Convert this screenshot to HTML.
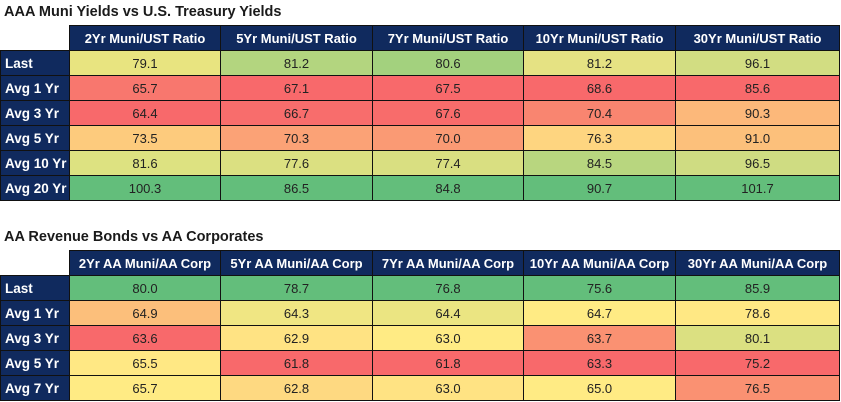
<!DOCTYPE html>
<html><head><meta charset="utf-8"><style>
body{margin:0;width:841px;height:402px;background:#fff;position:relative;overflow:hidden;font-family:"Liberation Sans",sans-serif}
.t{position:absolute;left:4px;font-size:14.5px;font-weight:bold;color:#1a1a1a}
.c{position:absolute;box-sizing:border-box;border:1.5px solid #111;display:flex;align-items:center;justify-content:center;font-size:13px;color:#222}
.h{background:#102a5e;color:#fff;font-weight:bold;font-size:13px}
.l{background:#102a5e;color:#fff;font-weight:bold;justify-content:flex-start;padding-left:4px;font-size:13.5px}
</style></head><body>
<div class="t" style="top:4px">AAA Muni Yields vs U.S. Treasury Yields</div>
<div class="t" style="top:229px">AA Revenue Bonds vs AA Corporates</div>
<div id="root"></div>
<script>
var xs=[0,69,220,372,523,675,839];
function tbl(y0,hh,rh,heads,labels,vals,cols){
 var s='';
 for(var j=0;j<5;j++){s+='<div class="c h" style="left:'+xs[j+1]+'px;top:'+y0+'px;width:'+(xs[j+2]-xs[j+1]+1)+'px;height:'+(hh+1)+'px">'+heads[j]+'</div>';}
 for(var i=0;i<labels.length;i++){var y=y0+hh+i*rh;
  s+='<div class="c l" style="left:0;top:'+y+'px;width:70px;height:'+(rh+1)+'px">'+labels[i]+'</div>';
  for(var j=0;j<5;j++){s+='<div class="c" style="left:'+xs[j+1]+'px;top:'+y+'px;width:'+(xs[j+2]-xs[j+1]+1)+'px;height:'+(rh+1)+'px;background:'+cols[i][j]+'">'+vals[i][j]+'</div>';}
 }
 return s;
}
var h1=['2Yr Muni/UST Ratio','5Yr Muni/UST Ratio','7Yr Muni/UST Ratio','10Yr Muni/UST Ratio','30Yr Muni/UST Ratio'];
var l1=['Last','Avg 1 Yr','Avg 3 Yr','Avg 5 Yr','Avg 10 Yr','Avg 20 Yr'];
var v1=[['79.1','81.2','80.6','81.2','96.1'],['65.7','67.1','67.5','68.6','85.6'],['64.4','66.7','67.6','70.4','90.3'],['73.5','70.3','70.0','76.3','91.0'],['81.6','77.6','77.4','84.5','96.5'],['100.3','86.5','84.8','90.7','101.7']];
var c1=[['#e8e480','#b3d57f','#a3d17e','#e5e283','#d2dd82'],['#f8776e','#f8696b','#f8696b','#f8696b','#f8696b'],['#f8696b','#f86d6c','#f86c6b','#f98570','#fcb87a'],['#fdcb7d','#fba276','#fa9a74','#fed580','#fcc07b'],['#dde281','#dbe081','#d9df81','#b8d67f','#cfdc82'],['#63be7b','#63be7b','#63be7b','#63be7b','#63be7b']];
var h2=['2Yr AA Muni/AA Corp','5Yr AA Muni/AA Corp','7Yr AA Muni/AA Corp','10Yr AA Muni/AA Corp','30Yr AA Muni/AA Corp'];
var l2=['Last','Avg 1 Yr','Avg 3 Yr','Avg 5 Yr','Avg 7 Yr'];
var v2=[['80.0','78.7','76.8','75.6','85.9'],['64.9','64.3','64.4','64.7','78.6'],['63.6','62.9','63.0','63.7','80.1'],['65.5','61.8','61.8','63.3','75.2'],['65.7','62.8','63.0','65.0','76.5']];
var c2=[['#63be7b','#63be7b','#63be7b','#63be7b','#63be7b'],['#fcbf7b','#f0e683','#ebe582','#ffeb84','#ffe884'],['#f8696b','#ffe383','#ffeb84','#fa9172','#dbe081'],['#ffe884','#f8696b','#f8696b','#f8696b','#f8696b'],['#ffeb84','#fed981','#ffe383','#ffeb84','#fa9172']];
document.getElementById('root').innerHTML=tbl(25,25,25,h1,l1,v1,c1)+tbl(250,25,25,h2,l2,v2,c2);
</script>
</body></html>
